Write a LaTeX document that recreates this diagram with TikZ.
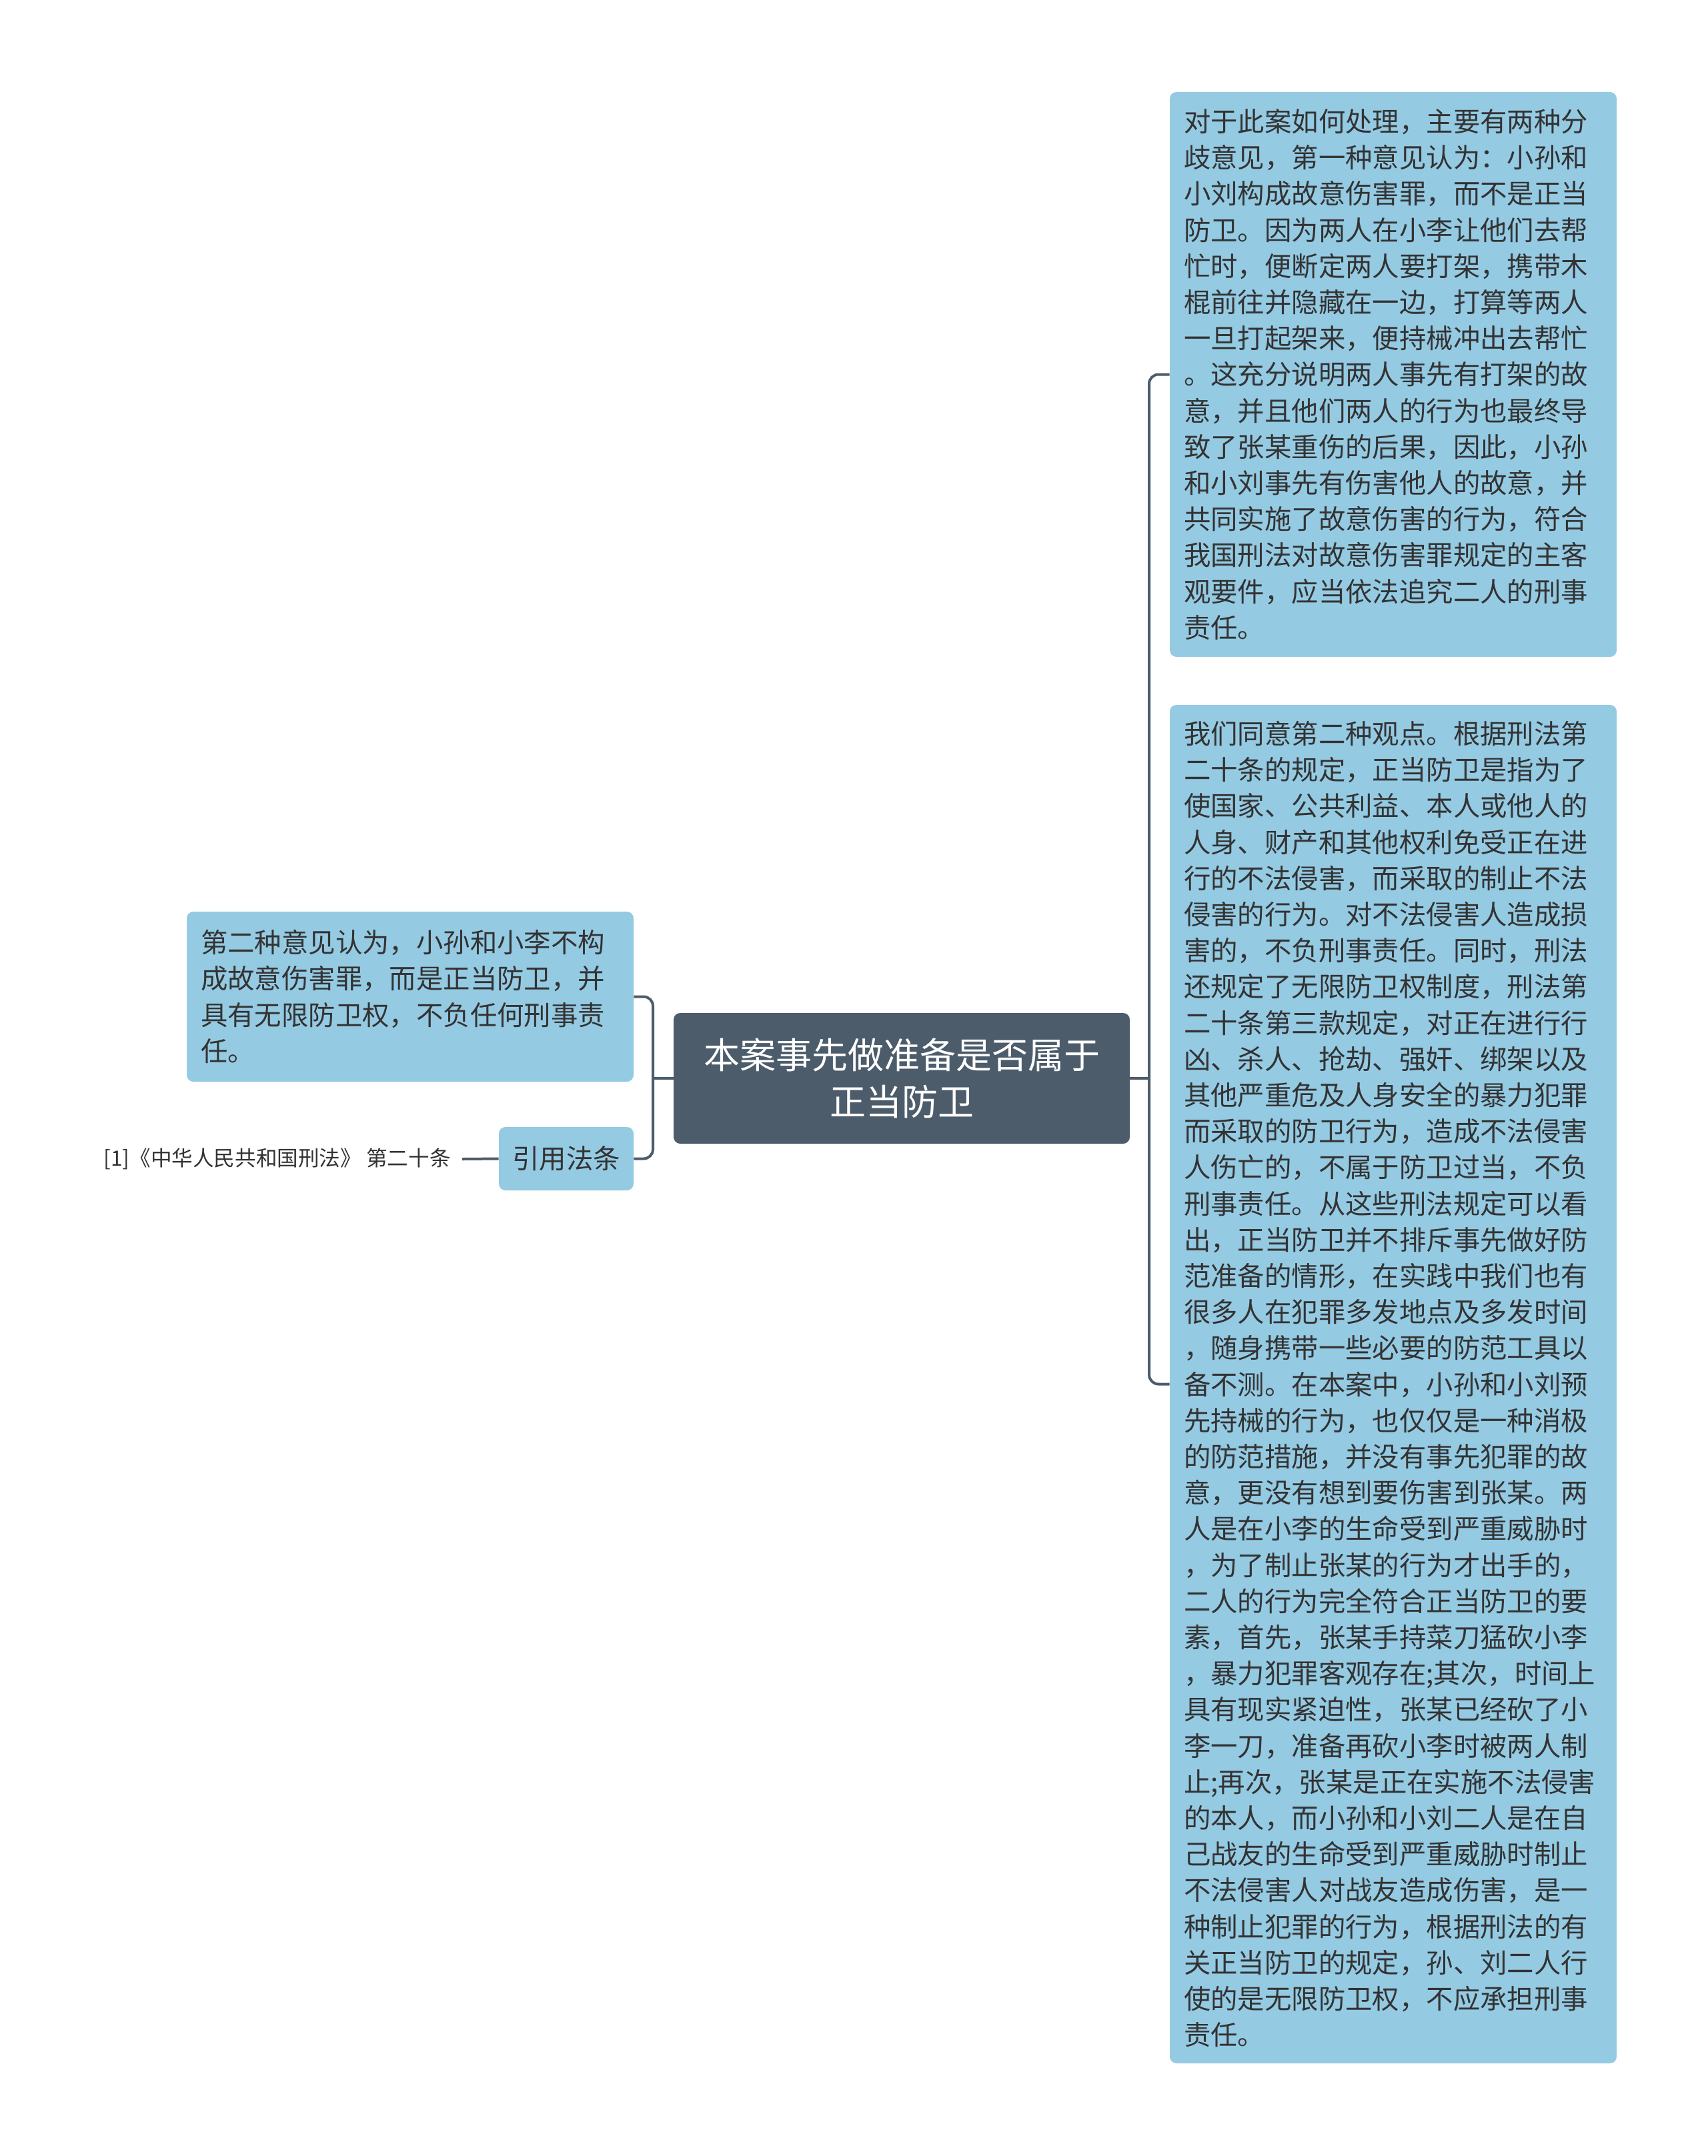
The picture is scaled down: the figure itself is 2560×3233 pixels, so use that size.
\documentclass[tikz,border=0pt]{standalone}
\usepackage{fontspec}
\setmainfont{Noto Sans CJK SC}
\definecolor{leafblue}{HTML}{95CAE3}
\definecolor{rootslate}{HTML}{4C5C6B}
\definecolor{txt}{HTML}{333333}
\begin{document}
\begin{tikzpicture}[x=0.5pt,y=-0.5pt,
  leaf/.style={fill=leafblue, rounded corners=5pt, text=txt, align=left,
    text width=314pt, inner xsep=10.5pt, inner ysep=0pt,
    font=\fontsize{20.2pt}{27.1pt}\selectfont, minimum width=335pt},
  rootbox/.style={fill=rootslate, rounded corners=5pt, text=white, align=center,
    font=\fontsize{27pt}{35pt}\selectfont, minimum width=342pt, minimum height=98pt, inner sep=0pt},
  smallbox/.style={fill=leafblue, rounded corners=5pt, text=txt,
    font=\fontsize{20.2pt}{27.1pt}\selectfont, minimum width=101pt, minimum height=47.5pt, inner sep=0pt},
  conn/.style={draw=rootslate, line width=2pt, rounded corners=7pt}]
\useasboundingbox[fill=white] (0,0) rectangle (2560,3233);

\node[rootbox] (root) at (1352,1617) {本案事先做准备是否属于\\正当防卫};

\node[leaf, minimum height=423.5pt] (n1) at (2089,561.5) {对于此案如何处理，主要有两种分\\
歧意见，第一种意见认为：小孙和\\
小刘构成故意伤害罪，而不是正当\\
防卫。因为两人在小李让他们去帮\\
忙时，便断定两人要打架，携带木\\
棍前往并隐藏在一边，打算等两人\\
一旦打起架来，便持械冲出去帮忙\\
。这充分说明两人事先有打架的故\\
意，并且他们两人的行为也最终导\\
致了张某重伤的后果，因此，小孙\\
和小刘事先有伤害他人的故意，并\\
共同实施了故意伤害的行为，符合\\
我国刑法对故意伤害罪规定的主客\\
观要件，应当依法追究二人的刑事\\
责任。};

\node[leaf, minimum height=1018.5pt] (n2) at (2089,2075.5) {我们同意第二种观点。根据刑法第\\
二十条的规定，正当防卫是指为了\\
使国家、公共利益、本人或他人的\\
人身、财产和其他权利免受正在进\\
行的不法侵害，而采取的制止不法\\
侵害的行为。对不法侵害人造成损\\
害的，不负刑事责任。同时，刑法\\
还规定了无限防卫权制度，刑法第\\
二十条第三款规定，对正在进行行\\
凶、杀人、抢劫、强奸、绑架以及\\
其他严重危及人身安全的暴力犯罪\\
而采取的防卫行为，造成不法侵害\\
人伤亡的，不属于防卫过当，不负\\
刑事责任。从这些刑法规定可以看\\
出，正当防卫并不排斥事先做好防\\
范准备的情形，在实践中我们也有\\
很多人在犯罪多发地点及多发时间\\
，随身携带一些必要的防范工具以\\
备不测。在本案中，小孙和小刘预\\
先持械的行为，也仅仅是一种消极\\
的防范措施，并没有事先犯罪的故\\
意，更没有想到要伤害到张某。两\\
人是在小李的生命受到严重威胁时\\
，为了制止张某的行为才出手的，\\
二人的行为完全符合正当防卫的要\\
素，首先，张某手持菜刀猛砍小李\\
，暴力犯罪客观存在;其次，时间上\\
具有现实紧迫性，张某已经砍了小\\
李一刀，准备再砍小李时被两人制\\
止;再次，张某是正在实施不法侵害\\
的本人，而小孙和小刘二人是在自\\
己战友的生命受到严重威胁时制止\\
不法侵害人对战友造成伤害，是一\\
种制止犯罪的行为，根据刑法的有\\
关正当防卫的规定，孙、刘二人行\\
使的是无限防卫权，不应承担刑事\\
责任。};

\node[leaf, minimum height=127.5pt] (left) at (615,1494.5) {第二种意见认为，小孙和小李不构\\
成故意伤害罪，而是正当防卫，并\\
具有无限防卫权，不负任何刑事责\\
任。};

\node[smallbox] (law) at (849,1737.5) {引用法条};

\node[anchor=east, text=txt, inner xsep=8.5pt, inner ysep=0pt,
  font=\fontsize{15.8pt}{19pt}\selectfont] (ref) at (693,1738) {[1]《中华人民共和国刑法》 第二十条};

\coordinate (lj) at (979,1617);
\coordinate (rj) at (1723,1617);

\draw[conn] (root.west) -- (lj);
\draw[conn] (lj) |- (left.east);
\draw[conn] (lj) |- (law.east);
\draw[conn] (root.east) -- (rj);
\draw[conn] (rj) |- (n1.west);
\draw[conn] (rj) |- (n2.west);
\draw[conn] (law.west) -- (ref.east);
\end{tikzpicture}
\end{document}
